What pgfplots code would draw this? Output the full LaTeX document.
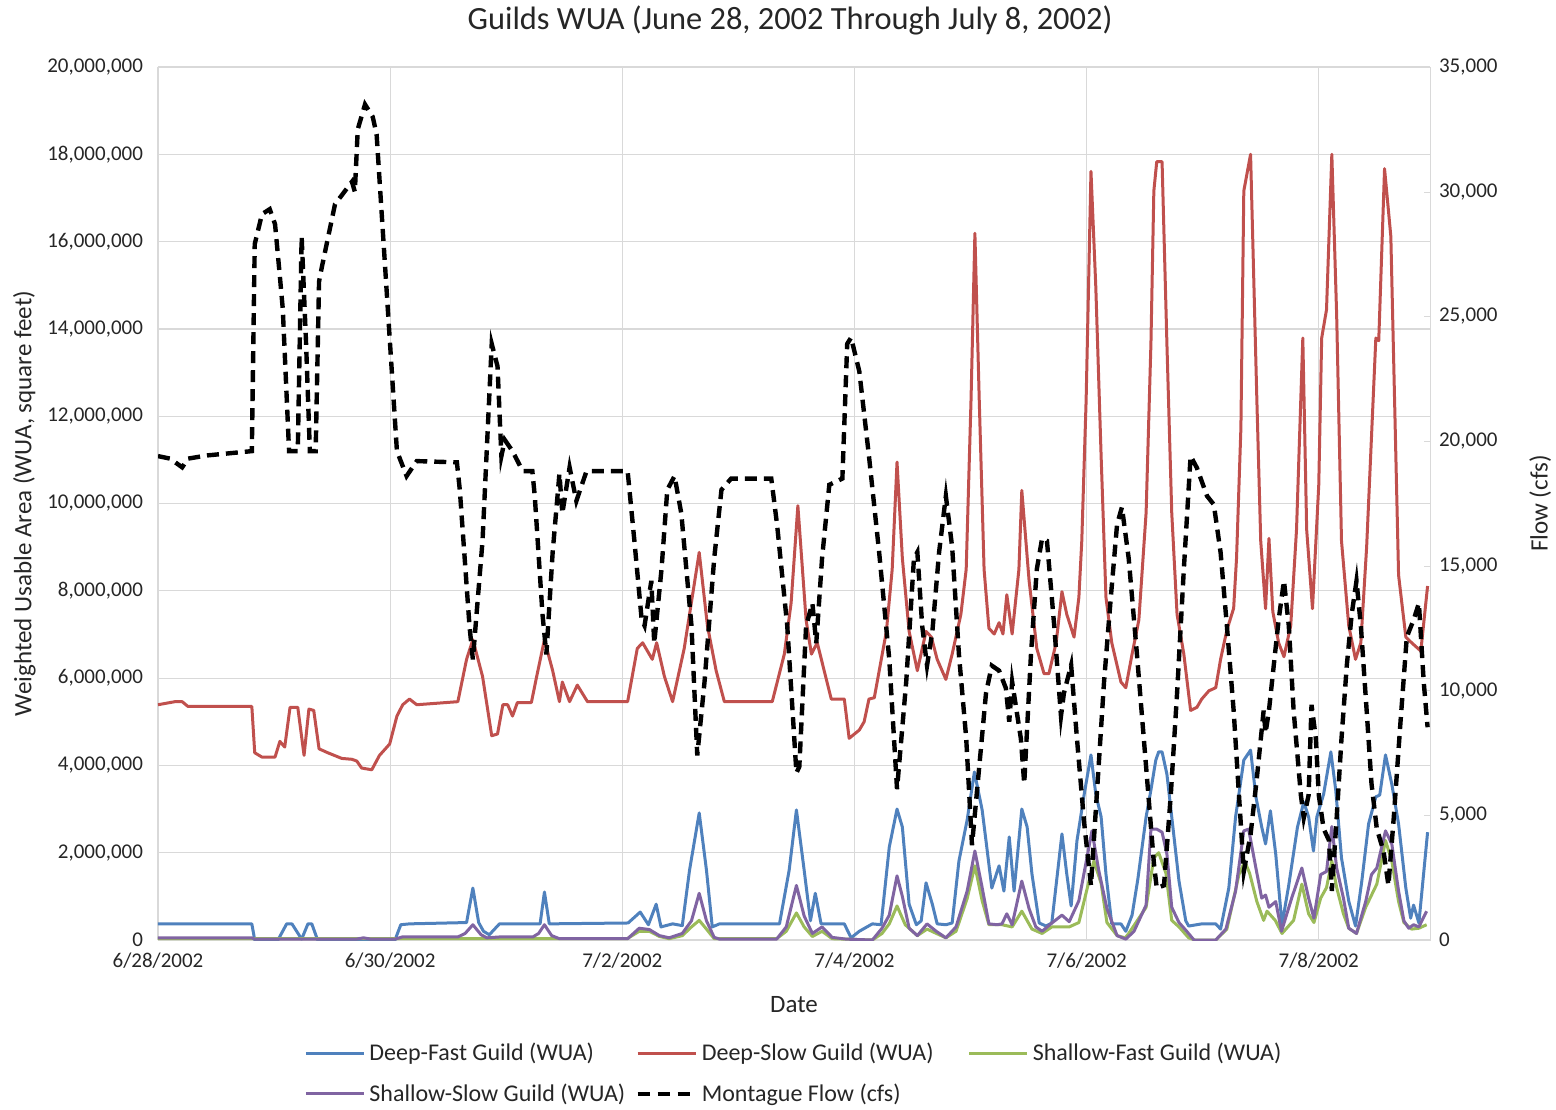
\documentclass[border=0pt]{standalone}
\usepackage{pgfplots}
\pgfplotsset{compat=1.18}
\usepackage{pgfplotstable}
\usepackage{fontspec}
\setmainfont{Carlito}
\definecolor{cblue}{HTML}{4F81BD}
\definecolor{cred}{HTML}{C0504D}
\definecolor{cgreen}{HTML}{9BBB59}
\definecolor{cpurple}{HTML}{8064A2}
\definecolor{cgrid}{HTML}{D9D9D9}
\definecolor{ctxt}{HTML}{262626}
\newcommand{\lgd}[1]{\makebox[131pt][l]{#1}}

% hours since 6/28/2002 00:00 ; WUA in millions of square feet
\pgfplotstableread{
h v
0 0.37
19.4 0.37
20 0.0
24.8 0.0
26.6 0.37
27.7 0.37
29.7 0.02
31 0.37
31.8 0.37
33 0.0
49 0.0
50.2 0.35
52 0.37
63.8 0.40
65.1 1.19
66.3 0.40
67.3 0.20
68.5 0.12
70.6 0.37
79 0.37
79.9 1.10
80.9 0.37
97.2 0.39
99.7 0.64
101.4 0.35
103 0.82
104 0.30
106.4 0.37
108.4 0.33
109.9 1.60
111.9 2.91
113.4 1.60
114.6 0.30
116.1 0.37
128.5 0.37
130.5 1.60
132 2.98
133.6 1.60
134.9 0.44
135.9 1.07
137.1 0.37
141.9 0.37
143.3 0.05
145 0.20
147.7 0.37
149.5 0.35
151.2 2.13
152.8 3.00
153.9 2.59
155.3 0.82
156.8 0.35
157.8 0.44
158.8 1.31
160.1 0.82
161.1 0.37
162.9 0.35
164.2 0.39
165.6 1.81
167.3 2.75
168.8 3.85
170.4 2.98
171.2 2.27
172.4 1.19
173.9 1.70
174.9 1.12
176 2.36
177 1.12
178.6 3.00
179.7 2.59
180.7 1.51
182.2 0.39
183.6 0.32
184.8 0.39
186.9 2.43
187.9 1.51
188.8 0.78
190 2.27
191.5 3.34
192.9 4.24
193.9 3.34
195 2.82
196 1.51
197.2 0.37
199.1 0.37
200.1 0.20
201.4 0.57
202.6 1.40
204.3 2.82
205.3 3.44
206.3 4.12
206.9 4.31
207.6 4.31
208.6 3.80
209.6 2.82
211.1 1.35
212.5 0.44
213.1 0.32
215.8 0.37
218.7 0.37
219.7 0.25
221.4 1.19
222.8 2.82
224.5 4.12
225.9 4.35
227 3.28
228.2 2.59
229 2.20
230 2.96
231.1 1.97
232.4 0.35
233.8 1.26
235.6 2.59
236.9 3.16
237.9 2.82
238.9 2.04
239.6 2.82
241 3.34
242.5 4.31
243.5 3.44
244.7 1.88
246.2 0.89
247.6 0.32
248.9 1.35
250.3 2.66
251.8 3.28
252.6 3.32
253.8 4.24
255.1 3.57
256.5 2.66
258 1.19
259 0.50
259.6 0.80
260.7 0.39
262.5 2.47
}\deepfast

\pgfplotstableread{
h v
0 5.39
3.5 5.46
5 5.46
6.2 5.35
19.4 5.35
20 4.29
21.5 4.19
24.2 4.19
25.2 4.55
26.2 4.42
27.3 5.33
28.9 5.33
30.2 4.23
31.2 5.29
32.2 5.26
33.3 4.38
35.1 4.29
38 4.16
40.1 4.14
41.1 4.10
42.1 3.94
44.2 3.90
45.8 4.23
47.9 4.49
49.4 5.13
50.6 5.39
52 5.52
53.5 5.39
62 5.46
63.8 6.43
65.1 6.88
67.1 6.04
69 4.68
70.2 4.72
71.3 5.39
72.3 5.39
73.3 5.13
74.3 5.44
77.2 5.44
78.3 6.04
79.9 6.88
81.6 6.17
83 5.46
83.6 5.91
85.1 5.46
86.7 5.84
88.8 5.46
97.1 5.46
99.1 6.68
100.2 6.81
102.2 6.43
103.1 6.81
104.7 6.04
106.4 5.46
108.8 6.68
111.9 8.88
113.6 7.20
115.4 6.17
117.1 5.46
127 5.46
129.5 6.55
130.9 7.72
132.3 9.95
134 7.33
135.1 6.55
136.3 6.81
139.2 5.52
141.9 5.52
142.9 4.62
145 4.81
146 5.00
147 5.52
148.1 5.55
150.6 7.07
151.8 8.49
152.8 10.95
153.9 8.75
155.3 7.07
157 6.17
158.8 7.07
159.9 6.94
161.1 6.43
162.9 5.97
164.2 6.55
166 7.46
167.1 8.49
168.1 12.37
168.9 16.19
169.8 12.37
170.8 8.49
171.8 7.14
172.9 7.01
173.9 7.27
174.7 7.01
175.5 7.91
176.6 7.01
178 8.49
178.6 10.30
180.1 8.24
181.7 6.68
183.2 6.10
184.2 6.10
185.7 6.81
186.9 7.98
187.9 7.46
189.4 6.94
190.4 7.85
191 9.14
191.9 12.37
192.9 17.61
193.9 14.96
195 11.08
196 7.85
197.2 6.81
199.1 5.91
200.1 5.78
201.4 6.55
202.8 7.33
204.3 9.79
205.3 13.67
205.9 17.16
206.5 17.83
207.6 17.83
208.6 13.67
209.6 9.79
210.7 7.46
212.1 6.55
213.5 5.26
214.8 5.33
215.8 5.52
217.3 5.71
218.7 5.78
219.7 6.43
221 7.10
222.4 7.60
223 8.75
223.9 11.73
224.5 17.16
225.9 18.00
227.2 12.37
228 9.14
229 7.59
229.7 9.20
230.5 7.52
231.7 6.81
232.8 6.49
234.2 7.20
235.4 9.40
236.7 13.79
237.5 9.40
238.7 7.59
240 10.43
240.6 13.79
241.6 14.44
242.7 18.00
243.7 14.31
244.7 9.14
246.2 7.20
247.6 6.43
248.7 6.81
249.9 9.01
251.8 13.79
252.4 13.73
253.6 17.67
254.9 16.12
256.5 8.36
258 6.94
259.2 6.81
261.1 6.62
262.5 8.11
}\deepslow

\pgfplotstableread{
h v
0 0.03
97 0.03
99.5 0.20
101.6 0.20
103.7 0.08
105.7 0.03
108.4 0.10
110.3 0.30
111.9 0.45
113.4 0.25
115 0.03
127.9 0.03
129.9 0.20
132 0.62
133.6 0.30
135.3 0.08
137.3 0.20
139.4 0.03
147.7 0.0
149.7 0.15
151.2 0.37
152.8 0.78
154.5 0.35
157 0.10
159 0.25
162.9 0.05
165 0.20
167.3 0.95
168.9 1.70
170.4 0.90
171.8 0.35
174.5 0.35
176.6 0.30
178.6 0.66
180.7 0.25
182.8 0.15
184.8 0.30
188.4 0.30
190.4 0.40
193.5 1.81
195 1.30
196.2 0.40
198.3 0.10
200 0.05
200.7 0.15
204.3 0.75
205.9 1.88
206.9 2.00
208.4 1.53
209.6 0.45
211.1 0.30
213.1 0.05
214.4 0.0
218.7 0.0
221 0.25
223.5 1.50
224.7 1.80
225.7 1.53
227.2 0.88
228.6 0.45
229.3 0.66
231 0.45
232.4 0.15
234.8 0.45
236.5 1.28
237.9 0.60
239 0.40
240.4 0.96
241.6 1.20
242.7 1.81
243.7 1.20
245.1 0.60
246.2 0.27
247.8 0.15
249.7 0.75
252 1.28
253.8 2.28
255.1 1.81
256.5 0.88
257.6 0.40
259.2 0.25
260.7 0.27
262.3 0.35
}\shallowfast

\pgfplotstableread{
h v
0 0.05
19.4 0.05
20 0.02
41 0.02
42.5 0.05
44 0.02
49 0.02
50.5 0.07
62 0.07
63.5 0.15
65.1 0.35
66.8 0.12
68 0.05
70.6 0.07
77.5 0.07
78.7 0.15
79.9 0.35
81.4 0.10
83 0.03
97.1 0.03
99.5 0.27
101.6 0.24
103.7 0.10
105.7 0.05
108.4 0.15
110.3 0.44
111.9 1.07
113.4 0.44
115 0.06
116.1 0.02
127.9 0.02
129.9 0.30
132 1.25
133.6 0.55
135.3 0.15
137.3 0.30
139.4 0.06
142.3 0.02
147.7 0.0
149.7 0.27
151.2 0.57
152.8 1.47
153.9 1.00
155.3 0.27
157 0.10
159 0.37
160.9 0.20
162.9 0.05
165 0.30
167.3 1.12
168.9 2.04
170.4 1.20
171.8 0.37
173.5 0.35
174.5 0.37
175.5 0.60
176.6 0.35
178.6 1.35
180.1 0.72
181.5 0.30
182.8 0.20
184.6 0.37
186.9 0.57
188.4 0.42
190.4 0.90
193.1 2.50
194.5 1.60
196.2 0.72
198.3 0.10
200.1 0.02
201.8 0.20
204.3 0.80
205.3 2.54
206.5 2.54
207.6 2.47
208.6 1.97
209.6 0.75
211.1 0.40
212.7 0.20
214.2 0.0
218.7 0.0
220.8 0.25
222.8 1.12
224.5 2.50
225.5 2.54
227 1.65
228.2 0.96
229 1.03
229.7 0.75
231.1 0.88
232.3 0.20
234.4 0.96
236.5 1.65
237.9 0.96
239 0.50
240.4 1.50
241.6 1.57
242.7 2.60
243.7 1.65
245.1 0.96
246.2 0.27
247.8 0.15
249.7 0.88
250.9 1.50
252 1.65
253.8 2.50
255.1 2.20
256.5 1.12
257.6 0.44
258.6 0.27
259.6 0.35
260.7 0.30
262.3 0.66
}\shallowslow

% Montague flow, cfs
\pgfplotstableread{
h q
0 19400
2.5 19300
5 18950
6.2 19300
10.3 19430
19.4 19600
20 27900
21.5 29100
23.1 29300
24.2 28700
25.2 26600
25.8 25300
27.1 19600
28.9 19600
29.7 28200
30.6 24000
31.4 19600
32.6 19600
33.3 26400
33.9 27000
36.6 29500
40.1 30400
40.7 30000
41.3 32500
42.8 33500
44.4 33000
45.2 32300
49.4 19600
51.4 18600
53.5 19200
61.8 19150
62.4 18050
64.4 12600
65.1 11250
67.1 16000
69 23900
70.2 23000
71 19400
71.7 20050
73.3 19600
75.4 18800
77.4 18800
77.9 17800
79.5 13050
80.3 11450
81.6 15550
83 18700
83.6 17100
85.1 18950
86.5 17600
88.6 18800
97.1 18800
98.5 16000
100 12850
100.6 12600
102 14400
102.6 11900
104.1 14850
105.3 18050
106.8 18600
108.2 17100
110.3 12600
111.5 7400
113 10350
115 15300
116.5 18050
118.5 18500
126.8 18500
128 16650
130.1 12600
132 6700
132.6 6950
134 12600
135.3 13500
136.1 11900
137.3 15300
138.8 18250
141.5 18500
142.5 23900
143.3 24150
145 22800
147 19400
149.1 15550
151.2 11250
152.8 6050
154.7 10350
156.3 15300
157 15550
158 12600
159 11000
160.1 12350
161.5 15550
162.9 17800
164.2 15750
165.6 11450
167.1 8100
168.3 3800
169.8 6950
171.2 9900
172.4 11000
173.9 10800
175.3 10100
176 8750
176.6 10350
178.4 8080
179.1 6270
180.5 11470
181.7 14860
182.8 16100
183.8 16000
185.3 12600
186.7 8980
187.3 9890
188.8 11020
190 8080
191.5 4680
192.9 2190
194.1 5810
195.6 10340
197 13730
198.3 16670
199.3 17350
200.7 15300
202.4 11470
204.3 6940
205.9 3100
206.5 2080
208 2190
209.4 5810
210.7 9890
212.1 14860
213.5 19400
214.8 18930
216.9 17800
218.3 17460
219.7 15540
221 12600
222.4 9200
223.5 5810
224.5 2750
225.9 4230
227.2 6490
228.6 9200
229 8300
229.7 9200
230.7 11020
231.7 12830
232.8 14400
233.8 12600
234.8 9200
236.3 5810
236.9 4900
237.9 5810
238.5 9430
239.4 8080
240 5810
241 4460
242.1 4000
242.7 1970
243.7 4900
244.7 8080
245.8 11020
246.8 13050
247.8 14400
248.7 12600
249.9 9200
250.9 6270
252 4460
253.4 3550
254.4 2190
255.5 4900
256.9 8750
258.2 12150
259.6 12830
260.7 13500
261.7 10340
262.5 8530
}\flow

\begin{document}
\begin{tikzpicture}
\path[use as bounding box] (-79pt,-84.5pt) rectangle (699pt,470pt);
\pgfplotsset{
  every axis/.append style={
    scale only axis, width=636pt, height=436.5pt,
    at={(0pt,0pt)}, anchor=south west,
    xmin=0, xmax=263,
    scaled y ticks=false, scaled x ticks=false,
    tick label style={font=\fontsize{10.5}{12}\selectfont, text=ctxt},
    label style={font=\fontsize{12.5}{14}\selectfont, text=ctxt},
  }
}
\begin{axis}[
  ymin=0, ymax=20,
  axis line style={draw=cgrid},
  xtick={0,48,96,144,192,240},
  xticklabels={6/28/2002,6/30/2002,7/2/2002,7/4/2002,7/6/2002,7/8/2002},
  ytick={0,2,4,6,8,10,12,14,16,18,20},
  yticklabels={0,{2,000,000},{4,000,000},{6,000,000},{8,000,000},{10,000,000},{12,000,000},{14,000,000},{16,000,000},{18,000,000},{20,000,000}},
  major tick length=0pt,
  xmajorgrids, ymajorgrids,
  grid style={cgrid, line width=0.6pt},
  xticklabel style={yshift=-3pt},
  yticklabel style={xshift=-4pt},
  xlabel={Date},
  xlabel style={yshift=-7pt},
  ylabel={Weighted Usable Area (WUA, square feet)},
  ylabel style={yshift=-1pt},
  legend columns=3,
  legend style={draw=none, fill=none, at={(0.506,-0.153)}, anchor=center,
    font=\fontsize{12}{14}\selectfont, text=ctxt,
    /tikz/every even column/.append style={column sep=0pt},
    row sep=6pt},
  legend cell align=left,
  legend image code/.code={\draw[#1] (0pt,0pt) -- (29pt,0pt);},
]
\addplot[cblue, line width=1.5pt, line join=round] table[x=h,y=v]{\deepfast};
\addlegendentry{\lgd{Deep-Fast Guild (WUA)}}
\addplot[cred, line width=1.5pt, line join=round] table[x=h,y=v]{\deepslow};
\addlegendentry{\lgd{Deep-Slow Guild (WUA)}}
\addplot[cgreen, line width=1.5pt, line join=round] table[x=h,y=v]{\shallowfast};
\addlegendentry{\lgd{Shallow-Fast Guild (WUA)}}
\addplot[cpurple, line width=1.5pt, line join=round] table[x=h,y=v]{\shallowslow};
\addlegendentry{\lgd{Shallow-Slow Guild (WUA)}}
\addlegendimage{black, line width=2.2pt, dash pattern=on 6pt off 4pt}
\addlegendentry{\lgd{Montague Flow (cfs)}}
\end{axis}
\begin{axis}[
  ymin=0, ymax=35000,
  axis x line=none,
  axis y line*=right,
  axis line style={draw=cgrid},
  ytick={0,5000,10000,15000,20000,25000,30000,35000},
  yticklabels={0,{5,000},{10,000},{15,000},{20,000},{25,000},{30,000},{35,000}},
  major tick length=3pt,
  ytick style={cgrid},
  yticklabel style={xshift=1pt},
  ylabel={Flow (cfs)},
  ylabel style={yshift=-9pt},
]
\addplot[black, line width=2.2pt, dash pattern=on 6pt off 3.5pt] table[x=h,y=q]{\flow};
\end{axis}
\node[font=\fontsize{16.2}{19}\selectfont, text=ctxt] at (316pt,460pt) {Guilds WUA (June 28, 2002 Through July 8, 2002)};
\end{tikzpicture}
\end{document}
